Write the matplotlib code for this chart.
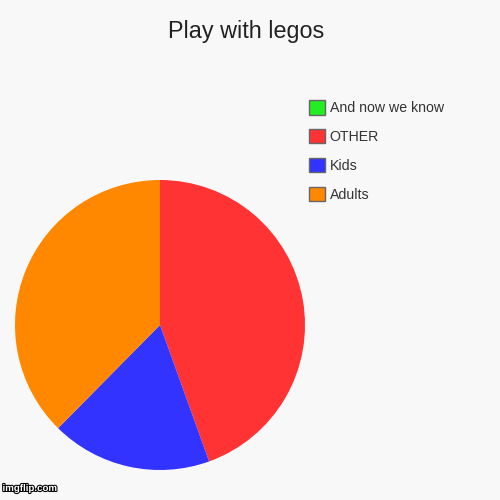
import matplotlib.pyplot as plt
import matplotlib.patheffects as pe
from matplotlib.patches import Patch

plt.rcParams['font.family'] = ['Liberation Sans', 'DejaVu Sans']

labels = ['And now we know', 'OTHER', 'Kids', 'Adults']
values = [0, 44.5, 17.9, 37.6]
colors = ['#22ee22', '#ff3333', '#3333ff', '#ff8800']

bg = '#f8f8f8'
fig = plt.figure(figsize=(5, 5), dpi=100, facecolor=bg)

# pie: centre (160, 325) px, radius 145 px
ax = fig.add_axes([0.03, 0.06, 0.58, 0.58])
ax.set_facecolor(bg)
ax.pie(values, colors=colors, startangle=90, counterclock=False,
       radius=1, wedgeprops=dict(linewidth=0))
ax.set_xlim(-1, 1)
ax.set_ylim(-1, 1)
ax.set_aspect('equal')
ax.axis('off')

fig.text(0.493, 0.924, 'Play with legos', ha='center', va='baseline',
         fontsize=16.8, color='#222222')

handles = [Patch(facecolor=c, edgecolor='#666666', linewidth=1) for c in colors]
fig.legend(handles, labels, loc='upper left', bbox_to_anchor=(0.618, 0.800),
           frameon=False, fontsize=10.2, handlelength=1.15, handleheight=1.2,
           handletextpad=0.3, labelspacing=0.98, borderpad=0, borderaxespad=0,
           labelcolor='#333333')

fig.text(0.005, 0.018, 'imgflip.com', fontsize=7, color='white', weight='bold',
         path_effects=[pe.withStroke(linewidth=1.5, foreground='black')])

fig.savefig('out.png', dpi=100, facecolor=bg)
